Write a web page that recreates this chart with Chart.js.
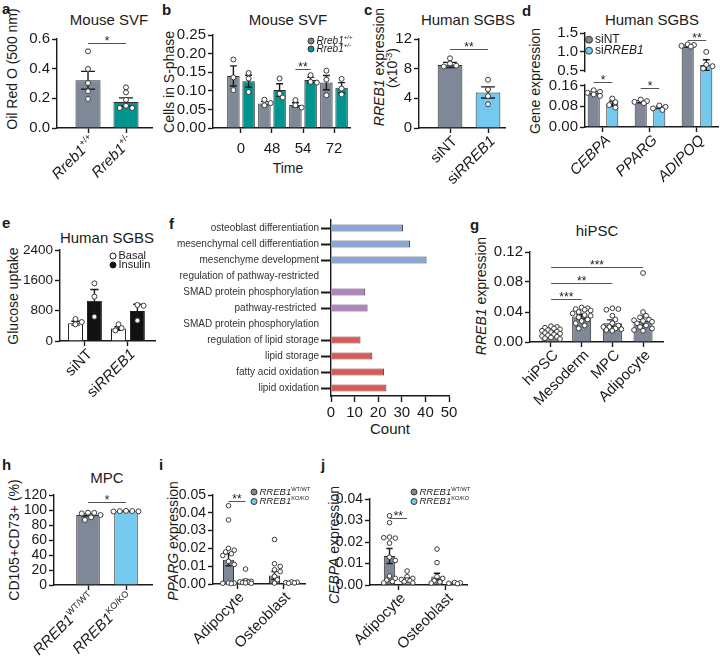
<!DOCTYPE html>
<html>
<head>
<meta charset="utf-8">
<script src="https://cdn.jsdelivr.net/npm/chart.js@4"></script>
<style>
  body { margin: 0; width: 720px; height: 663px; overflow: hidden; position: relative; background: #fff;
         font-family: "Liberation Sans", Arial, Helvetica, sans-serif; color: #1a1a1a; }
  canvas { position: absolute; }
  .t { position: absolute; white-space: nowrap; transform: translate(-50%, -50%); font-size: 15px; }
  .yt { position: absolute; white-space: nowrap; transform: translate(-50%, -50%) rotate(-90deg); font-size: 14px; }
  .l { position: absolute; font-weight: bold; font-size: 15px; line-height: 15px; }
</style>
</head>
<body>
<div class="l" style="left:2px;top:1px">a</div>
<div class="l" style="left:162px;top:2px">b</div>
<div class="l" style="left:364px;top:2px">c</div>
<div class="l" style="left:522px;top:3px">d</div>
<div class="l" style="left:2px;top:215px">e</div>
<div class="l" style="left:169px;top:216px">f</div>
<div class="l" style="left:470px;top:217px">g</div>
<div class="l" style="left:2px;top:457px">h</div>
<div class="l" style="left:159px;top:457px">i</div>
<div class="l" style="left:321px;top:457px">j</div>

<div class="t" style="left:109px;top:19px">Mouse SVF</div>
<div class="t" style="left:288px;top:19px">Mouse SVF</div>
<div class="t" style="left:468px;top:19px">Human SGBS</div>
<div class="t" style="left:652px;top:19px">Human SGBS</div>
<div class="t" style="left:107px;top:237px">Human SGBS</div>
<div class="t" style="left:597px;top:230px">hiPSC</div>
<div class="t" style="left:107px;top:477px">MPC</div>

<div class="yt" style="left:12px;top:69px">Oil Red O (500 nm)</div>
<div class="yt" style="left:169px;top:82px">Cells in S-phase</div>
<div class="yt" style="left:379px;top:67px"><i>RREB1</i> expression</div>
<div class="yt" style="left:392px;top:68px">(x10<sup style="font-size:9px">-3</sup>)</div>
<div class="yt" style="left:535px;top:81px">Gene expression</div>
<div class="yt" style="left:13px;top:296px">Glucose uptake</div>
<div class="yt" style="left:481px;top:296px"><i>RREB1</i> expression</div>
<div class="yt" style="left:14px;top:540px">CD105+CD73+ (%)</div>
<div class="yt" style="left:173px;top:541px"><i>PPARG</i> expression</div>
<div class="yt" style="left:334px;top:545px"><i>CEBPA</i> expression</div>

<div class="t" style="left:288px;top:168px;font-size:14px">Time</div>
<div class="t" style="left:390px;top:428px">Count</div>

<script>
const FONT = '"Liberation Sans", Arial, Helvetica, sans-serif';
const INK = '#1a1a1a';
const GREY = '#7e8897', TEAL = '#00958f', SKY = '#74c9ef';

// ---- data ----
// a: Oil Red O
const aLabels = ['<i>Rreb1</i><sup>+/+</sup>', '<i>Rreb1</i><sup>+/-</sup>'];
const aMean = [0.322, 0.175];
const aSem = [0.06, 0.028];
const aPts = [[0.517, 0.398, 0.303, 0.247, 0.196], [0.274, 0.24, 0.19, 0.15, 0.135, 0.135]];

// b: S-phase over time
const bTimes = ['0', '48', '54', '72'];
const bWtMean = [0.14, 0.066, 0.062, 0.122];
const bWtSem = [0.027, 0.005, 0.006, 0.019];
const bWtPts = [[0.184, 0.136, 0.102], [0.076, 0.067, 0.061], [0.075, 0.061, 0.055], [0.154, 0.13, 0.088]];
const bHetMean = [0.126, 0.102, 0.129, 0.108];
const bHetSem = [0.016, 0.017, 0.007, 0.014];
const bHetPts = [[0.148, 0.133, 0.097], [0.133, 0.092, 0.082], [0.142, 0.124, 0.122], [0.132, 0.106, 0.09]];

// c: RREB1 knockdown
const cLabels = ['siNT', 'si<i>RREB1</i>'];
const cMean = [8.5, 4.8];
const cSem = [0.35, 0.75];
const cPts = [[9.4, 8.7, 8.4, 8.3], [6.5, 5.2, 4.3, 3.2]];

// d: gene expression (broken axis)
const dGenes = ['<i>CEBPA</i>', '<i>PPARG</i>', '<i>ADIPOQ</i>'];
const dNtMean = [0.131, 0.098, 1.15];
const dNtSem = [0.006, 0.004, 0.03];
const dNtPts = [[0.142, 0.136, 0.132, 0.126, 0.12], [0.106, 0.1, 0.097, 0.092], [1.2, 1.18, 1.16, 1.14]];
const dKdMean = [0.09, 0.075, 0.65];
const dKdSem = [0.01, 0.004, 0.14];
const dKdPts = [[0.11, 0.096, 0.085, 0.075], [0.083, 0.078, 0.072, 0.066], [1.0, 0.66, 0.62, 0.56]];
const dTicks = [0, 0.08, 0.16, 0.5, 1.0, 1.5];
const dTickLabels = ['0.00', '0.08', '0.16', '0.5', '1.0', '1.5'];

// e: glucose uptake
const eGroups = ['siNT', 'si<i>RREB1</i>'];
const eBasalMean = [470, 330];
const eBasalSem = [50, 45];
const eBasalPts = [[580, 500, 440], [440, 340, 280]];
const eInsMean = [1060, 790];
const eInsSem = [300, 180];
const eInsPts = [[1520, 1170, 640], [950, 930, 540]];

// f: GO terms
const fTerms = ['osteoblast differentiation', 'mesenchymal cell differentiation', 'mesenchyme development',
  'regulation of pathway-restricted', 'SMAD protein phosphorylation', 'pathway-restricted ',
  'SMAD protein phosphorylation', 'regulation of lipid storage', 'lipid storage', 'fatty acid oxidation', 'lipid oxidation'];
const fCounts = [30.5, 33.5, 40.5, null, 14.5, 15.5, null, 12.5, 17.5, 22.5, 23.5];
const fGroup = ['dev', 'dev', 'dev', null, 'smad', 'smad', null, 'lipid', 'lipid', 'lipid', 'lipid'];

// g: differentiation stages
const gStages = ['hiPSC', 'Mesoderm', 'MPC', 'Adipocyte'];
const gMean = [0.0125, 0.034, 0.025, 0.028];
const gSem = [0.0012, 0.003, 0.0045, 0.0065];
const gPts = [
  [0.021, 0.02, 0.019, 0.018, 0.017, 0.016, 0.015, 0.014, 0.013, 0.012, 0.011, 0.01, 0.009, 0.008, 0.007, 0.006, 0.005, 0.004],
  [0.046, 0.045, 0.044, 0.043, 0.042, 0.04, 0.038, 0.036, 0.035, 0.033, 0.03, 0.028, 0.025, 0.022, 0.018],
  [0.045, 0.044, 0.043, 0.035, 0.03, 0.025, 0.022, 0.02, 0.02, 0.018, 0.017, 0.016, 0.015],
  [0.092, 0.04, 0.035, 0.033, 0.03, 0.029, 0.028, 0.027, 0.025, 0.022, 0.02, 0.018, 0.016, 0.015]
];

// h: MPC markers
const hLabels = ['<i>RREB1</i><sup>WT/WT</sup>', '<i>RREB1</i><sup>KO/KO</sup>'];
const hMean = [93.5, 98.3];
const hSem = [1.6, 0.3];
const hPts = [[96.5, 96.2, 95.5, 93.3, 90.2, 86.7], [98.8, 98.6, 98.4, 98.2, 98]];

// i: PPARG
const koTypes = ['Adipocyte', 'Osteoblast'];
const iWtMean = [0.0136, 0.0048];
const iWtSem = [0.0034, 0.0022];
const iWtPts = [[0.044, 0.036, 0.02, 0.019, 0.018, 0.017, 0.016, 0.0127, 0.011, 0.0006, 0.0005, 0.0004, 0.0003],
  [0.025, 0.0114, 0.0099, 0.008, 0.007, 0.0043, 0.0024, 0.0005]];
const iKoMean = [0.0018, 0.0009];
const iKoSem = [0.0007, 0.0002];
const iKoPts = [[0.0084, 0.0018, 0.0015, 0.0012, 0.001, 0.0008, 0.0006, 0.0004], [0.0012, 0.001, 0.0008, 0.0006, 0.0004]];

// j: CEBPA
const jWtMean = [0.0135, 0.004];
const jWtSem = [0.0035, 0.0015];
const jWtPts = [[0.0322, 0.029, 0.0223, 0.0218, 0.022, 0.0195, 0.0129, 0.0114, 0.0042, 0.0031, 0.0023, 0.0016, 0.001],
  [0.0167, 0.0104, 0.0039, 0.0031, 0.002, 0.0014, 0.0009]];
const jKoMean = [0.0028, 0.001];
const jKoSem = [0.0006, 0.0002];
const jKoPts = [[0.0065, 0.0039, 0.0031, 0.0026, 0.0023, 0.002, 0.0015, 0.001], [0.0012, 0.001, 0.0008, 0.0006]];

const koLegend = ['<i>RREB1</i><sup>WT/WT</sup>', '<i>RREB1</i><sup>KO/KO</sup>'];

// ---- helpers ----
function parseRich(s) {
  const out = [];
  s.split(/(<i>.*?<\/i>|<sup>.*?<\/sup>)/).forEach(p => {
    if (!p) return;
    if (p.startsWith('<i>')) out.push({ t: p.slice(3, -4), it: true });
    else if (p.startsWith('<sup>')) out.push({ t: p.slice(5, -6), sup: true });
    else out.push({ t: p });
  });
  return out;
}

function drawRich(ctx, s, x, y, rot, align, size, italicAll) {
  const parts = parseRich(s).map(p => {
    const fs = p.sup ? size * 0.6 : size;
    const font = ((p.it || italicAll) ? 'italic ' : '') + fs + 'px ' + FONT;
    ctx.font = font;
    return { t: p.t, font, w: ctx.measureText(p.t).width, dy: p.sup ? -size * 0.32 : 0 };
  });
  const total = parts.reduce((a, p) => a + p.w, 0);
  let cx = align === 'right' ? -total : align === 'center' ? -total / 2 : 0;
  ctx.save();
  ctx.translate(x, y);
  ctx.rotate(rot);
  ctx.fillStyle = INK;
  ctx.textAlign = 'left';
  ctx.textBaseline = 'middle';
  parts.forEach(p => { ctx.font = p.font; ctx.fillText(p.t, cx, p.dy); cx += p.w; });
  ctx.restore();
}

// evenly stepped ticks, rounded so the last one is not lost to float error
function stepTicks(min, max, step) {
  const out = [];
  const n = Math.round((max - min) / step);
  for (let i = 0; i <= n; i++) out.push({ value: +(min + i * step).toFixed(6) });
  return out;
}

function decorFor(c, box) {
  const map = c.map || (v => v);
  return {
    id: 'decor',
    afterDatasetsDraw(chart) {
      const ctx = chart.ctx, ys = chart.scales.y;
      const py = v => ys.getPixelForValue(map(v));
      const r = c.r || 2.5;
      ctx.save();
      c.series.forEach((s, di) => {
        chart.getDatasetMeta(di).data.forEach((bar, i) => {
          const x = bar.x, w = bar.width;
          // error bar
          const y1 = py(s.mean[i] + s.sem[i]), y0 = py(Math.max(0, s.mean[i] - s.sem[i]));
          const cap = Math.max(3, w * 0.28);
          ctx.strokeStyle = INK;
          ctx.lineWidth = 1.4;
          ctx.beginPath();
          ctx.moveTo(x, y1); ctx.lineTo(x, y0);
          ctx.moveTo(x - cap, y1); ctx.lineTo(x + cap, y1);
          ctx.moveTo(x - cap, y0); ctx.lineTo(x + cap, y0);
          ctx.stroke();
          // points, simple swarm
          const placed = [];
          const lim = w / 2 + r * 0.5;
          s.pts[i].forEach(v => {
            const y = py(v);
            let best = 0, bestD = -1;
            for (let k = 0; k < 16; k++) {
              const cand = k === 0 ? 0 : (k % 2 ? 1 : -1) * Math.ceil(k / 2) * r * 1.25;
              if (Math.abs(cand) > lim) continue;
              const d = placed.reduce((m, p) => Math.min(m, Math.hypot(p[0] - cand, p[1] - y)), 99);
              if (d >= r * 1.9) { best = cand; bestD = d; break; }
              if (d > bestD) { bestD = d; best = cand; }
            }
            placed.push([best, y]);
            ctx.beginPath();
            ctx.arc(x + best, y, r, 0, Math.PI * 2);
            ctx.fillStyle = '#fff';
            ctx.fill();
            ctx.strokeStyle = '#3a3a3a';
            ctx.lineWidth = 1;
            ctx.stroke();
          });
        });
      });
      ctx.restore();
    },
    afterDraw(chart) {
      const ctx = chart.ctx, ys = chart.scales.y, xs = chart.scales.x;
      const area = chart.chartArea;
      const barX = (d, i) => chart.getDatasetMeta(d).data[i].x;
      ctx.save();
      if (c.gap) {
        const yTop = ys.getPixelForValue(map(c.gap[1])) + 1.5;
        const yBot = ys.getPixelForValue(map(c.gap[0])) - 1.5;
        ctx.fillStyle = '#fff';
        ctx.fillRect(area.left - 2, yTop, 4, yBot - yTop);
      }
      (c.sig || []).forEach(s => {
        const y = Math.round(ys.getPixelForValue(map(s.y))) + 0.5;
        const x0 = barX(s.a[0], s.a[1]), x1 = barX(s.b[0], s.b[1]);
        ctx.strokeStyle = '#555';
        ctx.lineWidth = 1;
        ctx.beginPath(); ctx.moveTo(x0, y); ctx.lineTo(x1, y); ctx.stroke();
        ctx.fillStyle = INK;
        ctx.font = '12px ' + FONT;
        ctx.textAlign = 'center';
        ctx.textBaseline = 'alphabetic';
        ctx.fillText(s.t, (x0 + x1) / 2, y + 1.5);
      });
      if (c.legend) {
        const L = c.legend;
        L.items.forEach((it, k) => {
          const cx = L.x - box.x, cy = L.y - box.y + k * L.dy;
          ctx.beginPath();
          ctx.arc(cx, cy, L.r, 0, Math.PI * 2);
          ctx.fillStyle = it.fill;
          ctx.fill();
          ctx.strokeStyle = it.stroke || '#333';
          ctx.lineWidth = 1;
          ctx.stroke();
          drawRich(ctx, it.label, cx + L.r + 2.5, cy, 0, 'left', L.size, L.italic);
        });
      }
      if (c.xl) {
        c.groups.forEach((g, i) => {
          drawRich(ctx, g, xs.getPixelForValue(i + 1) + 5, area.bottom + 11, -Math.PI / 4, 'right', c.xlSize || 15);
        });
      }
      ctx.restore();
    }
  };
}

function makeCanvas(box) {
  const cv = document.createElement('canvas');
  cv.width = box.w; cv.height = box.h;
  cv.style.left = box.x + 'px'; cv.style.top = box.y + 'px';
  document.body.appendChild(cv);
  return cv;
}

function axisStyle(extra) {
  return Object.assign({
    grid: { drawOnChartArea: false, offset: false, tickLength: 5, tickWidth: 1.4, tickColor: INK },
    border: { color: INK, width: 1.4 }
  }, extra);
}

function makePanel(c) {
  const m = Object.assign({ L: 48, T: 28, R: 25, B: 80 }, c.m);
  const [l, t, r, b] = c.area;
  const box = { x: l - m.L, y: t - m.T, w: r - l + m.L + m.R, h: b - t + m.T + m.B };
  const map = c.map || (v => v);
  const datasets = c.series.map(s => ({
    data: s.mean.map((v, i) => ({ x: i + 1, y: map(v) })),
    backgroundColor: s.color,
    borderColor: s.edge || '#2e2e2e',
    borderWidth: 1,
    categoryPercentage: c.cat,
    barPercentage: c.bar
  }));
  const tickFont = { family: FONT, size: c.tickSize || 15 };
  return new Chart(makeCanvas(box), {
    type: 'bar',
    data: { datasets },
    options: {
      responsive: false, animation: false, events: [],
      layout: { padding: { top: m.T, right: m.R, left: 0, bottom: 0 } },
      plugins: { legend: { display: false }, tooltip: { enabled: false } },
      scales: {
        x: axisStyle({
          type: 'linear', min: c.xr[0], max: c.xr[1], offset: false,
          afterBuildTicks: s => { s.ticks = c.groups.map((g, i) => ({ value: i + 1 })); },
          afterFit: s => { s.height = m.B; },
          ticks: { display: !c.xl, callback: (v, i) => c.groups[i], font: tickFont, color: INK,
                   padding: 7, maxRotation: 0, autoSkip: false }
        }),
        y: axisStyle({
          type: 'linear', min: c.y.min, max: c.y.max,
          afterBuildTicks: s => {
            s.ticks = c.y.ticks ? c.y.ticks.map(v => ({ value: map(v) })) : stepTicks(c.y.min, c.y.max, c.y.step);
          },
          afterFit: s => { s.width = m.L; },
          ticks: { font: tickFont, color: INK, padding: 2, autoSkip: false,
                   callback: (v, i) => c.y.labels ? c.y.labels[i] : Number(v).toFixed(c.y.dec) }
        })
      }
    },
    plugins: [decorFor(c, box)]
  });
}

// broken axis transform for panel d (lower 0-0.16, upper 0.5-1.5)
const dMap = v => v <= 0.16 ? v * 260.6 : v <= 0.5 ? 41.7 + (v - 0.16) / 0.34 * 15 : 56.7 + (v - 0.5) * 38;

// ---- panels ----
makePanel({
  area: [57, 39, 152, 128], xr: [0.184, 2.684], cat: 1, bar: 0.66,
  y: { min: 0, max: 0.6, step: 0.2, dec: 1 }, groups: aLabels, xl: true,
  series: [{ mean: aMean, sem: aSem, pts: aPts, color: [GREY, TEAL] }],
  sig: [{ a: [0, 0], b: [0, 1], y: 0.573, t: '*' }]
});

makePanel({
  area: [213, 35, 350, 128], xr: [0.097, 4.516], cat: 0.98, bar: 0.82, m: { B: 45 },
  y: { min: 0, max: 0.25, step: 0.05, dec: 2 }, groups: bTimes,
  series: [{ mean: bWtMean, sem: bWtSem, pts: bWtPts, color: GREY },
           { mean: bHetMean, sem: bHetSem, pts: bHetPts, color: TEAL }],
  sig: [{ a: [0, 2], b: [1, 2], y: 0.158, t: '**' }],
  legend: { x: 311, y: 41, dy: 8, r: 3, size: 10, italic: true,
            items: [{ fill: GREY, label: '<i>Rreb1</i><sup>+/+</sup>' }, { fill: TEAL, label: '<i>Rreb1</i><sup>+/-</sup>' }] }
});

makePanel({
  area: [419, 39, 505, 128], xr: [0.184, 2.447], cat: 1, bar: 0.65,
  y: { min: 0, max: 12, step: 4, dec: 0 }, groups: cLabels, xl: true,
  series: [{ mean: cMean, sem: cSem, pts: cPts, color: [GREY, SKY] }],
  sig: [{ a: [0, 0], b: [0, 1], y: 10.6, t: '**' }]
});

makePanel({
  area: [585, 33.3, 718, 128], xr: [0.617, 3.447], cat: 0.79, bar: 0.65, map: dMap, gap: [0.16, 0.5],
  y: { min: 0, max: dMap(1.5), ticks: dTicks, labels: dTickLabels }, groups: dGenes, xl: true,
  series: [{ mean: dNtMean, sem: dNtSem, pts: dNtPts, color: GREY },
           { mean: dKdMean, sem: dKdSem, pts: dKdPts, color: SKY }],
  sig: [{ a: [0, 0], b: [1, 0], y: 0.25, t: '*' }, { a: [0, 1], b: [1, 1], y: 0.149, t: '*' },
        { a: [0, 2], b: [1, 2], y: 1.32, t: '**' }],
  legend: { x: 589, y: 40, dy: 11, r: 3.5, size: 12,
            items: [{ fill: GREY, label: 'siNT' }, { fill: SKY, label: 'si<i>RREB1</i>' }] }
});

makePanel({
  area: [60, 250, 155, 341], xr: [0.419, 2.63], cat: 0.88, bar: 0.79, tickSize: 13.5,
  y: { min: 0, max: 2400, step: 800, dec: 0 }, groups: eGroups, xl: true,
  series: [{ mean: eBasalMean, sem: eBasalSem, pts: eBasalPts, color: '#fff', edge: INK },
           { mean: eInsMean, sem: eInsSem, pts: eInsPts, color: '#111', edge: INK }],
  legend: { x: 113, y: 256, dy: 9, r: 3, size: 11,
            items: [{ fill: '#fff', stroke: INK, label: 'Basal' }, { fill: '#111', stroke: INK, label: 'Insulin' }] }
});

// f: horizontal GO bars
(function () {
  const area = [331, 220, 449, 396], L = 175, T = 10, R = 15, B = 45;
  const box = { x: area[0] - L, y: area[1] - T, w: area[2] - area[0] + L + R, h: area[3] - area[1] + T + B };
  const groupColor = { dev: '#87a6dc', smad: '#b382c0', lipid: '#e05656' };
  new Chart(makeCanvas(box), {
    type: 'bar',
    data: {
      labels: fTerms,
      datasets: [{
        data: fCounts,
        backgroundColor: fGroup.map(g => groupColor[g] || 'transparent'),
        borderColor: '#444', borderWidth: 1,
        categoryPercentage: 1, barPercentage: 0.45
      }]
    },
    options: {
      indexAxis: 'y', responsive: false, animation: false, events: [],
      layout: { padding: { top: T, right: R, left: 0, bottom: 0 } },
      plugins: { legend: { display: false }, tooltip: { enabled: false } },
      scales: {
        x: axisStyle({
          type: 'linear', min: 0, max: 50,
          afterBuildTicks: s => { s.ticks = stepTicks(0, 50, 10); },
          afterFit: s => { s.height = B; },
          ticks: { font: { family: FONT, size: 15 }, color: INK, padding: 2, maxRotation: 0, autoSkip: false },
          grid: { drawOnChartArea: false, tickLength: 6, tickWidth: 1.4, tickColor: INK }
        }),
        y: axisStyle({
          type: 'category', offset: true,
          afterFit: s => { s.width = L; },
          ticks: { font: { family: FONT, size: 10 }, color: '#333', padding: 2, autoSkip: false },
          grid: { drawOnChartArea: false, offset: false, tickLength: 10, tickWidth: 2,
                  tickColor: ctx => fCounts[ctx.index] == null ? 'rgba(0,0,0,0)' : INK }
        })
      }
    }
  });
})();

makePanel({
  area: [530, 252, 663, 342], xr: [0.316, 4.65], cat: 1, bar: 0.62, r: 2.4,
  y: { min: 0, max: 0.12, step: 0.04, dec: 2 }, groups: gStages, xl: true,
  series: [{ mean: gMean, sem: gSem, pts: gPts, color: GREY }],
  sig: [{ a: [0, 0], b: [0, 1], y: 0.057, t: '***' }, { a: [0, 0], b: [0, 2], y: 0.079, t: '**' },
        { a: [0, 0], b: [0, 3], y: 0.1, t: '***' }]
});

makePanel({
  area: [54, 495, 152, 585], xr: [0.105, 2.684], cat: 1, bar: 0.62, tickSize: 14,
  y: { min: 0, max: 120, step: 20, dec: 0 }, groups: hLabels, xl: true,
  series: [{ mean: hMean, sem: hSem, pts: hPts, color: [GREY, SKY] }],
  sig: [{ a: [0, 0], b: [0, 1], y: 110.7, t: '*' }]
});

makePanel({
  area: [213, 495, 305, 584], xr: [0.478, 2.478], cat: 0.74, bar: 0.65, tickSize: 14, r: 2.3,
  y: { min: 0, max: 0.05, step: 0.01, dec: 2 }, groups: koTypes, xl: true,
  series: [{ mean: iWtMean, sem: iWtSem, pts: iWtPts, color: GREY },
           { mean: iKoMean, sem: iKoSem, pts: iKoPts, color: SKY }],
  sig: [{ a: [0, 0], b: [1, 0], y: 0.0466, t: '**' }],
  legend: { x: 254, y: 492, dy: 9.5, r: 3, size: 9.5,
            items: [{ fill: GREY, label: koLegend[0] }, { fill: SKY, label: koLegend[1] }] }
});

makePanel({
  area: [370, 499, 467, 585], xr: [0.404, 2.447], cat: 0.74, bar: 0.65, tickSize: 14, r: 2.3,
  y: { min: 0, max: 0.04, step: 0.01, dec: 2 }, groups: koTypes, xl: true,
  series: [{ mean: jWtMean, sem: jWtSem, pts: jWtPts, color: GREY },
           { mean: jKoMean, sem: jKoSem, pts: jKoPts, color: SKY }],
  sig: [{ a: [0, 0], b: [1, 0], y: 0.031, t: '**' }],
  legend: { x: 414, y: 492, dy: 9.5, r: 3, size: 9.5,
            items: [{ fill: GREY, label: koLegend[0] }, { fill: SKY, label: koLegend[1] }] }
});
</script>
</body>
</html>
